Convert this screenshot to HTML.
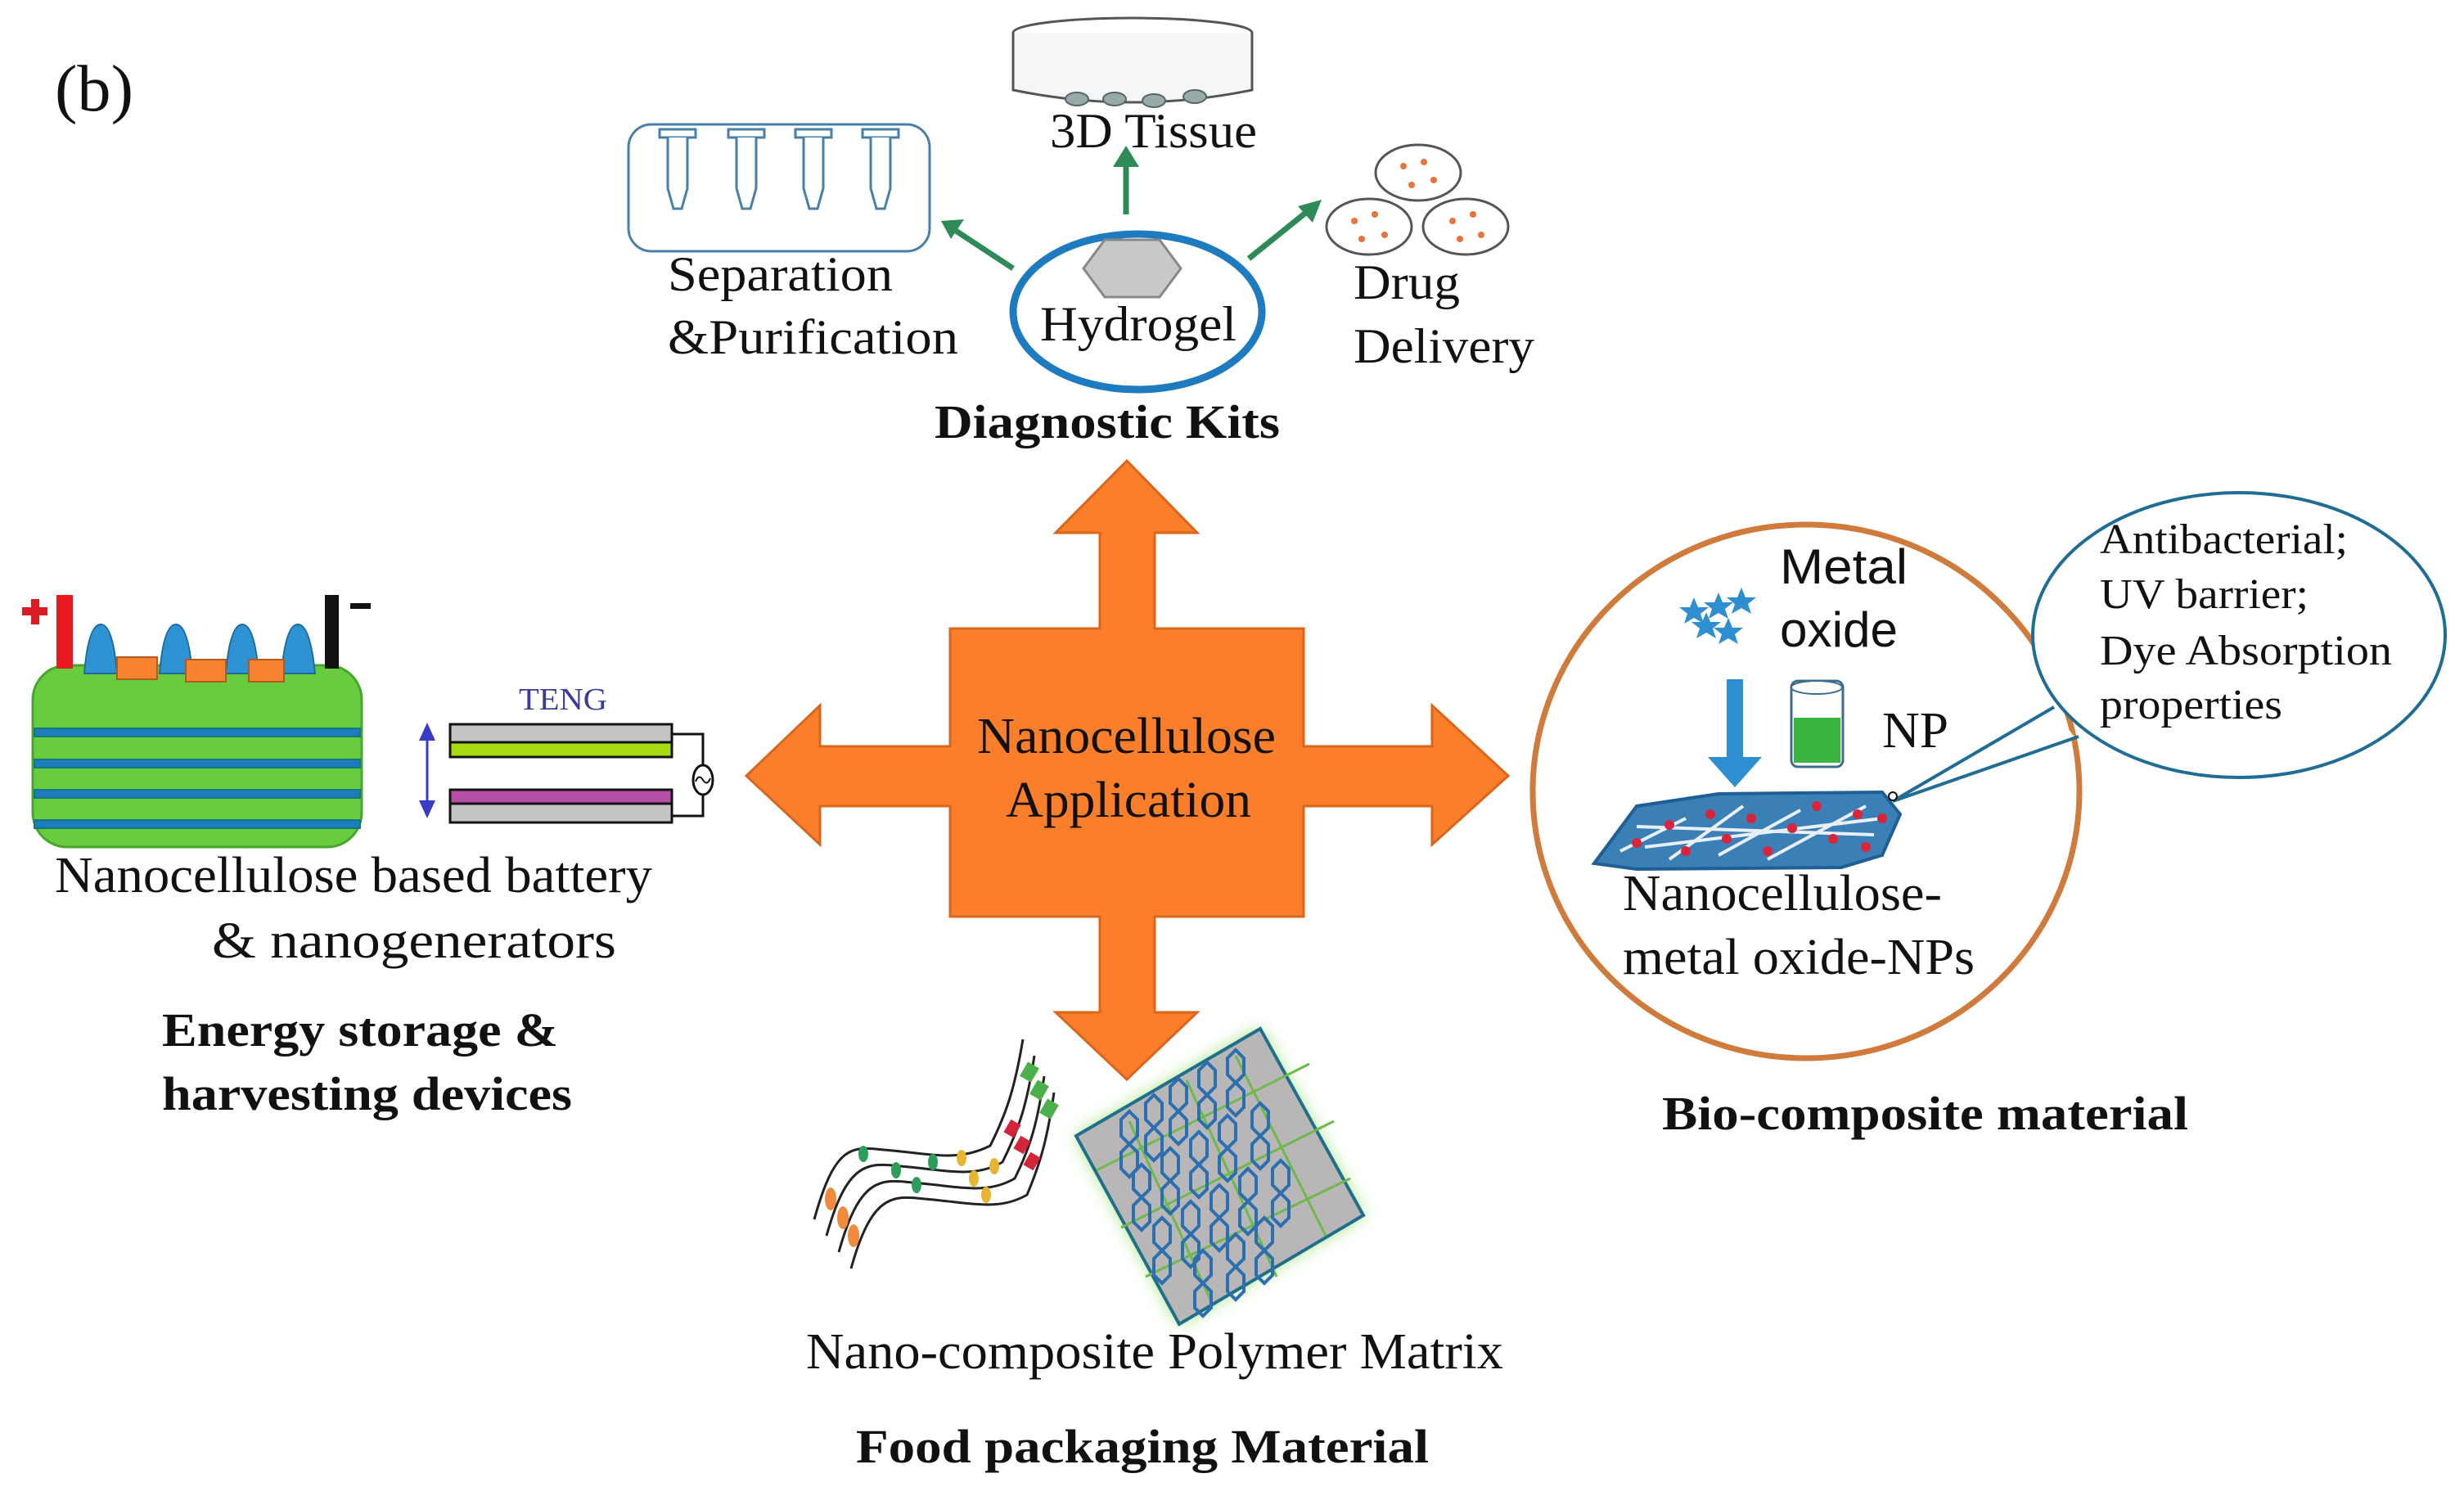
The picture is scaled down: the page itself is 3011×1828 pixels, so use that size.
<!DOCTYPE html>
<html><head><meta charset="utf-8"><style>
html,body{margin:0;padding:0;background:#fff;}
svg{display:block;}
text{font-family:"Liberation Serif",serif;fill:#111;}
.sans{font-family:"Liberation Sans",sans-serif;}
.b{font-weight:bold;}
</style></head><body>
<svg width="3011" height="1828" viewBox="0 0 3011 1828" xmlns="http://www.w3.org/2000/svg">
<defs>
<filter id="glow" x="-20%" y="-20%" width="140%" height="140%"><feGaussianBlur stdDeviation="10"/></filter>
<g id="hx"><polygon points="0,-22 10,-12 10,8 0,18 -10,8 -10,-12"/><polygon points="0,18 10,28 10,48 0,58 -10,48 -10,28"/></g>
</defs>
<text x="67" y="135" font-size="80" textLength="96" lengthAdjust="spacingAndGlyphs">(b)</text>

<!-- Central orange cross -->
<path d="M1161,768 L1344,768 L1344,651 L1290,651 L1377,563 L1463,651 L1411,651 L1411,768 L1593,768 L1593,912 L1750,912 L1750,862 L1843,948 L1750,1032 L1750,985 L1593,985 L1593,1120 L1411,1120 L1411,1237 L1463,1237 L1377,1319 L1290,1237 L1344,1237 L1344,1120 L1161,1120 L1161,985 L1002,985 L1002,1032 L912,948 L1002,862 L1002,912 L1161,912 Z" fill="#fb7f2a" stroke="#d9661c" stroke-width="3"/>
<text x="1194" y="920" font-size="62" textLength="365" lengthAdjust="spacingAndGlyphs">Nanocellulose</text>
<text x="1229" y="998" font-size="62" textLength="300" lengthAdjust="spacingAndGlyphs">Application</text>

<!-- Top: diagnostic kits -->
<rect x="768" y="152" width="368" height="155" rx="28" fill="#fff" stroke="#4a7fa8" stroke-width="3"/>
<g fill="#fff" stroke="#4a7fa8" stroke-width="3">
<g transform="translate(828,0)"><rect x="-22" y="158" width="44" height="10"/><path d="M-12,168 V230 L-5,255 H5 L12,230 V168"/></g>
<g transform="translate(912,0)"><rect x="-22" y="158" width="44" height="10"/><path d="M-12,168 V230 L-5,255 H5 L12,230 V168"/></g>
<g transform="translate(994,0)"><rect x="-22" y="158" width="44" height="10"/><path d="M-12,168 V230 L-5,255 H5 L12,230 V168"/></g>
<g transform="translate(1076,0)"><rect x="-22" y="158" width="44" height="10"/><path d="M-12,168 V230 L-5,255 H5 L12,230 V168"/></g>
</g>
<ellipse cx="1384" cy="40" rx="146" ry="18" fill="#fff" stroke="#555" stroke-width="3"/>
<path d="M1238,40 V110 Q1384,140 1530,110 V40" fill="#f4f6f8" stroke="#555" stroke-width="3"/>
<g fill="#9aa" stroke="#566" stroke-width="2">
<ellipse cx="1316" cy="121" rx="14" ry="8"/><ellipse cx="1362" cy="121" rx="14" ry="8"/><ellipse cx="1410" cy="123" rx="14" ry="8"/><ellipse cx="1460" cy="118" rx="14" ry="8"/></g>
<text x="1283" y="180" font-size="60" textLength="253" lengthAdjust="spacingAndGlyphs">3D Tissue</text>
<ellipse cx="1390" cy="381" rx="152" ry="95" fill="#fff" stroke="#1e7bbf" stroke-width="9"/>
<polygon points="1324,328 1350,293 1417,293 1443,328 1417,363 1350,363" fill="#c8c8c8" stroke="#888" stroke-width="3"/>
<text x="1271" y="416" font-size="60" textLength="240" lengthAdjust="spacingAndGlyphs">Hydrogel</text>
<g stroke="#2e8b57" stroke-width="7" fill="#2e8b57">
<line x1="1376" y1="262" x2="1376" y2="200"/><polygon points="1360,204 1392,204 1376,178" stroke="none"/>
<line x1="1238" y1="328" x2="1165" y2="280"/><polygon points="1150,270 1178,268 1162,292" stroke="none"/>
<line x1="1526" y1="316" x2="1598" y2="258"/><polygon points="1615,244 1586,252 1604,272" stroke="none"/>
</g>
<g fill="#fff" stroke="#555" stroke-width="3">
<ellipse cx="1733" cy="211" rx="52" ry="34"/><ellipse cx="1673" cy="277" rx="52" ry="34"/><ellipse cx="1791" cy="277" rx="52" ry="34"/></g>
<g fill="#e8743b">
<circle cx="1715" cy="203" r="4"/><circle cx="1740" cy="198" r="4"/><circle cx="1752" cy="220" r="4"/><circle cx="1725" cy="226" r="4"/>
<circle cx="1655" cy="270" r="4"/><circle cx="1680" cy="262" r="4"/><circle cx="1692" cy="287" r="4"/><circle cx="1664" cy="292" r="4"/>
<circle cx="1775" cy="270" r="4"/><circle cx="1800" cy="262" r="4"/><circle cx="1810" cy="287" r="4"/><circle cx="1784" cy="292" r="4"/></g>
<text x="816" y="355" font-size="60" textLength="275" lengthAdjust="spacingAndGlyphs">Separation</text>
<text x="816" y="432" font-size="60" textLength="355" lengthAdjust="spacingAndGlyphs">&amp;Purification</text>
<text x="1654" y="365" font-size="60" textLength="130" lengthAdjust="spacingAndGlyphs">Drug</text>
<text x="1654" y="443" font-size="60" textLength="221" lengthAdjust="spacingAndGlyphs">Delivery</text>
<text x="1142" y="535" font-size="58" class="b" textLength="422" lengthAdjust="spacingAndGlyphs">Diagnostic Kits</text>

<!-- Left: battery -->
<rect x="40" y="813" width="402" height="222" rx="42" fill="#67cc3e" stroke="#4aa52e" stroke-width="3"/>
<g fill="#1e7bbf" stroke="#117a7a" stroke-width="2">
<rect x="42" y="890" width="398" height="10"/><rect x="42" y="928" width="398" height="10"/><rect x="42" y="965" width="398" height="10"/><rect x="42" y="1002" width="398" height="10"/></g>
<g fill="#2d93d3" stroke="#1f6c9c" stroke-width="2">
<path d="M103,823 Q108,763 123,763 Q138,763 143,823 Z"/><path d="M195,823 Q200,763 215,763 Q230,763 235,823 Z"/><path d="M276,823 Q281,763 296,763 Q311,763 316,823 Z"/><path d="M344,823 Q349,763 364,763 Q379,763 385,823 Z"/></g>
<g fill="#f7822f" stroke="#b35a1f" stroke-width="2"><rect x="143" y="803" width="49" height="27"/><rect x="227" y="806" width="49" height="27"/><rect x="304" y="806" width="43" height="27"/></g>
<rect x="69" y="727" width="20" height="90" fill="#e8191f"/>
<rect x="397" y="727" width="17" height="90" fill="#111"/>
<path d="M38,732 H48 V742 H58 V752 H48 V763 H38 V752 H27 V742 H38 Z" fill="#d81b25"/>
<rect x="428" y="737" width="25" height="7" fill="#111"/>
<text x="634" y="867" font-size="38" style="fill:#3a3a9a" textLength="108" lengthAdjust="spacingAndGlyphs">TENG</text>
<rect x="550" y="885" width="271" height="22" fill="#c4c4c4" stroke="#111" stroke-width="3"/>
<rect x="550" y="907" width="271" height="18" fill="#a6dc10" stroke="#111" stroke-width="3"/>
<rect x="550" y="965" width="271" height="17" fill="#b64ea6" stroke="#111" stroke-width="3"/>
<rect x="550" y="982" width="271" height="23" fill="#c4c4c4" stroke="#111" stroke-width="3"/>
<path d="M821,897 H859 V935 M859,971 V997 H821" fill="none" stroke="#111" stroke-width="3"/>
<ellipse cx="859" cy="953" rx="12" ry="18" fill="#fff" stroke="#111" stroke-width="3"/>
<path d="M850,955 Q854,945 859,953 Q864,961 868,951" fill="none" stroke="#111" stroke-width="2"/>
<line x1="522" y1="890" x2="522" y2="995" stroke="#3a3ac8" stroke-width="3"/>
<polygon points="522,883 512,905 532,905" fill="#3a3ac8"/><polygon points="522,1000 512,978 532,978" fill="#3a3ac8"/>
<text x="67" y="1090" font-size="62" textLength="730" lengthAdjust="spacingAndGlyphs">Nanocellulose based battery</text>
<text x="259" y="1170" font-size="62" textLength="494" lengthAdjust="spacingAndGlyphs">&amp; nanogenerators</text>
<text x="198" y="1278" font-size="58" class="b" textLength="484" lengthAdjust="spacingAndGlyphs">Energy storage &amp;</text>
<text x="198" y="1356" font-size="58" class="b" textLength="501" lengthAdjust="spacingAndGlyphs">harvesting devices</text>

<!-- Right: bio-composite -->
<ellipse cx="2207" cy="967" rx="334" ry="326" fill="#fff" stroke="#d07a3c" stroke-width="7"/>
<g fill="#2d8fcf">
<polygon points="2070,730 2075,742 2088,742 2078,750 2082,762 2070,755 2058,762 2062,750 2052,742 2065,742"/>
<polygon points="2100,724 2105,736 2118,736 2108,744 2112,756 2100,749 2088,756 2092,744 2082,736 2095,736"/>
<polygon points="2128,718 2133,730 2146,730 2136,738 2140,750 2128,743 2116,750 2120,738 2110,730 2123,730"/>
<polygon points="2085,748 2090,760 2103,760 2093,768 2097,780 2085,773 2073,780 2077,768 2067,760 2080,760"/>
<polygon points="2112,755 2117,767 2130,767 2120,775 2124,787 2112,780 2100,787 2104,775 2094,767 2107,767"/>
</g>
<text x="2175" y="713" font-size="60" class="sans" textLength="156" lengthAdjust="spacingAndGlyphs">Metal</text>
<text x="2175" y="790" font-size="60" class="sans" textLength="144" lengthAdjust="spacingAndGlyphs">oxide</text>
<rect x="2110" y="830" width="20" height="97" fill="#2d8fcf"/>
<polygon points="2087,925 2153,925 2120,962" fill="#2d8fcf"/>
<rect x="2189" y="832" width="63" height="105" rx="8" fill="#fff" stroke="#3d6d8d" stroke-width="3"/>
<rect x="2192" y="877" width="57" height="55" fill="#3cb540"/>
<ellipse cx="2220" cy="840" rx="31" ry="8" fill="#fff" stroke="#3d6d8d" stroke-width="2"/>
<text x="2300" y="913" font-size="62" textLength="81" lengthAdjust="spacingAndGlyphs">NP</text>
<polygon points="1948,1055 2000,985 2100,970 2300,968 2322,995 2300,1045 2250,1060 2000,1062" fill="#3a7fb5" stroke="#1f5f95" stroke-width="4"/>
<g stroke="#e8f0f6" stroke-width="4">
<line x1="1980" y1="1040" x2="2060" y2="1000"/><line x1="2040" y1="1050" x2="2130" y2="985"/><line x1="2100" y1="1045" x2="2200" y2="990"/><line x1="2160" y1="1050" x2="2280" y2="985"/><line x1="2000" y1="1010" x2="2290" y2="1020"/><line x1="2010" y1="1035" x2="2300" y2="1000"/></g>
<g fill="#d8253c">
<circle cx="2000" cy="1030" r="6"/><circle cx="2040" cy="1008" r="6"/><circle cx="2060" cy="1040" r="6"/><circle cx="2090" cy="995" r="6"/><circle cx="2110" cy="1025" r="6"/><circle cx="2140" cy="1000" r="6"/><circle cx="2160" cy="1040" r="6"/><circle cx="2190" cy="1012" r="6"/><circle cx="2220" cy="985" r="6"/><circle cx="2240" cy="1025" r="6"/><circle cx="2270" cy="995" r="6"/><circle cx="2280" cy="1035" r="6"/><circle cx="2300" cy="1000" r="6"/></g>
<text x="1983" y="1112" font-size="62" textLength="390" lengthAdjust="spacingAndGlyphs">Nanocellulose-</text>
<text x="1983" y="1190" font-size="62" textLength="430" lengthAdjust="spacingAndGlyphs">metal oxide-NPs</text>
<ellipse cx="2736" cy="776" rx="252" ry="174" fill="#fff" stroke="#1f6c95" stroke-width="4"/>
<path d="M2505,862 L2318,979 L2537,903" fill="#fff" stroke="none"/>
<line x1="2510" y1="864" x2="2313" y2="979" stroke="#1f6c95" stroke-width="4"/>
<line x1="2540" y1="900" x2="2313" y2="979" stroke="#1f6c95" stroke-width="4"/>
<circle cx="2313" cy="973" r="5" fill="#fff" stroke="#111" stroke-width="2"/>
<text x="2566" y="676" font-size="52" textLength="303" lengthAdjust="spacingAndGlyphs">Antibacterial;</text>
<text x="2566" y="743" font-size="52" textLength="255" lengthAdjust="spacingAndGlyphs">UV barrier;</text>
<text x="2566" y="812" font-size="52" textLength="357" lengthAdjust="spacingAndGlyphs">Dye Absorption</text>
<text x="2566" y="878" font-size="52" textLength="223" lengthAdjust="spacingAndGlyphs">properties</text>
<text x="2031" y="1380" font-size="58" class="b" textLength="643" lengthAdjust="spacingAndGlyphs">Bio-composite material</text>

<!-- Bottom: food packaging -->
<g fill="none" stroke="#222" stroke-width="3">
<path d="M995,1490 C1020,1400 1040,1400 1080,1405 C1140,1410 1170,1420 1210,1400 C1230,1360 1240,1330 1250,1270"/>
<path d="M1010,1510 C1035,1420 1060,1420 1100,1425 C1160,1430 1190,1440 1225,1420 C1245,1380 1255,1350 1264,1290"/>
<path d="M1025,1530 C1050,1440 1075,1440 1115,1445 C1175,1450 1205,1460 1240,1440 C1260,1400 1268,1370 1276,1315"/>
<path d="M1040,1550 C1065,1460 1090,1460 1130,1465 C1190,1470 1220,1480 1255,1460 C1272,1420 1280,1390 1288,1335"/>
</g>
<g fill="#2d9d5a"><ellipse cx="1055" cy="1410" rx="6" ry="10"/><ellipse cx="1095" cy="1430" rx="6" ry="10"/><ellipse cx="1120" cy="1448" rx="6" ry="10"/><ellipse cx="1140" cy="1420" rx="6" ry="10"/></g>
<g fill="#e6b532"><ellipse cx="1175" cy="1415" rx="6" ry="10"/><ellipse cx="1190" cy="1440" rx="6" ry="10"/><ellipse cx="1205" cy="1460" rx="6" ry="10"/><ellipse cx="1215" cy="1425" rx="6" ry="10"/></g>
<g fill="#f08a3c"><ellipse cx="1015" cy="1465" rx="7" ry="14"/><ellipse cx="1030" cy="1488" rx="7" ry="14"/><ellipse cx="1043" cy="1510" rx="7" ry="14"/></g>
<g fill="#d3243a"><rect x="1230" y="1370" width="14" height="18" transform="rotate(30 1237 1379)"/><rect x="1242" y="1390" width="14" height="18" transform="rotate(30 1249 1399)"/><rect x="1254" y="1410" width="14" height="18" transform="rotate(30 1261 1419)"/></g>
<g fill="#4cb04a"><rect x="1250" y="1300" width="16" height="20" transform="rotate(30 1258 1310)"/><rect x="1262" y="1322" width="16" height="20" transform="rotate(30 1270 1332)"/><rect x="1274" y="1345" width="16" height="20" transform="rotate(30 1282 1355)"/></g>
<polygon points="1315,1388 1540,1257 1666,1485 1441,1618" fill="#9fe27a" filter="url(#glow)"/>
<polygon points="1315,1388 1540,1257 1666,1485 1441,1618" fill="#b8b6b6" stroke="#1f6f8a" stroke-width="4"/>
<g stroke="#6fb84a" stroke-width="3">
<line x1="1340" y1="1430" x2="1600" y2="1300"/><line x1="1370" y1="1500" x2="1630" y2="1370"/><line x1="1400" y1="1560" x2="1650" y2="1440"/>
<line x1="1380" y1="1370" x2="1480" y2="1590"/><line x1="1450" y1="1320" x2="1560" y2="1560"/><line x1="1510" y1="1290" x2="1620" y2="1510"/></g>
<g fill="none" stroke="#2b6fb0" stroke-width="4">
<use href="#hx" x="1380" y="1380"/><use href="#hx" x="1410" y="1360"/><use href="#hx" x="1440" y="1340"/><use href="#hx" x="1475" y="1320"/><use href="#hx" x="1510" y="1305"/>
<use href="#hx" x="1395" y="1445"/><use href="#hx" x="1430" y="1425"/><use href="#hx" x="1465" y="1405"/><use href="#hx" x="1500" y="1385"/><use href="#hx" x="1540" y="1370"/>
<use href="#hx" x="1420" y="1510"/><use href="#hx" x="1455" y="1490"/><use href="#hx" x="1490" y="1470"/><use href="#hx" x="1525" y="1450"/><use href="#hx" x="1565" y="1440"/>
<use href="#hx" x="1470" y="1550"/><use href="#hx" x="1510" y="1530"/><use href="#hx" x="1545" y="1510"/>
</g>
<text x="985" y="1672" font-size="62" textLength="852" lengthAdjust="spacingAndGlyphs">Nano-composite Polymer Matrix</text>
<text x="1046" y="1787" font-size="58" class="b" textLength="700" lengthAdjust="spacingAndGlyphs">Food packaging Material</text>
</svg>
</body></html>
